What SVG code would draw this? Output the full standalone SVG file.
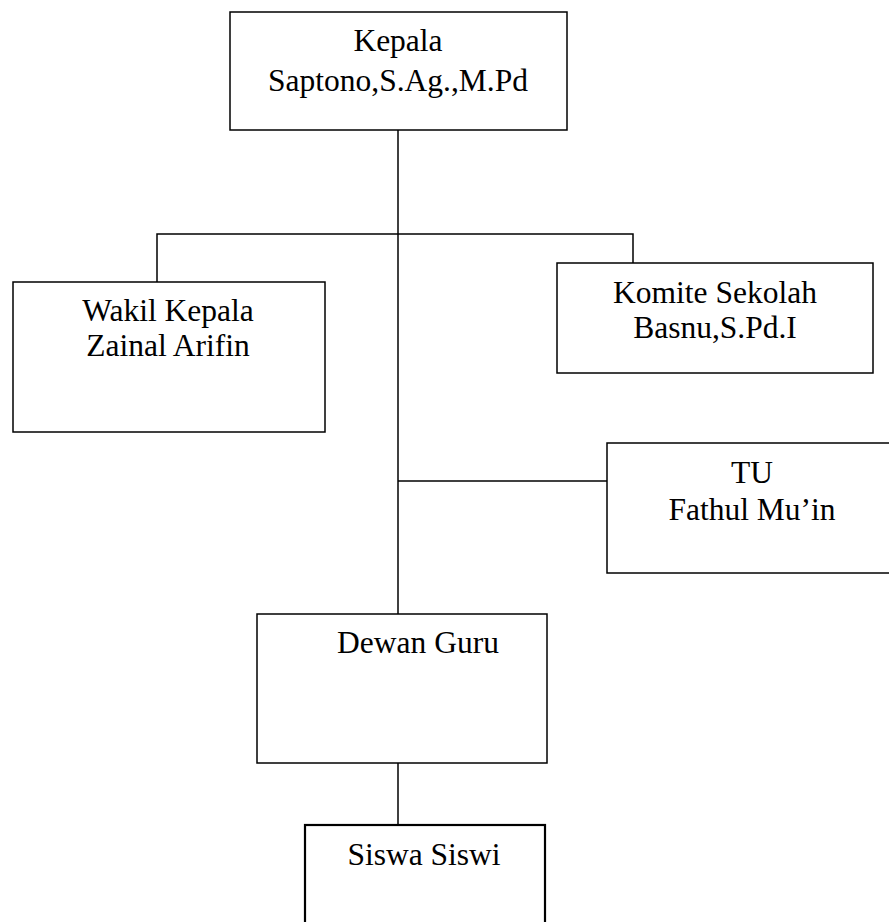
<svg xmlns="http://www.w3.org/2000/svg" width="889" height="922" viewBox="0 0 889 922">
<style>
.box{fill:#fff;stroke:#000;stroke-width:1.5}
.thick{stroke-width:2.2}
.ln{fill:none;stroke:#000;stroke-width:1.5}
text{font-family:"Liberation Serif","Times New Roman",serif;font-size:31.5px;fill:#000;text-anchor:middle}
</style>
<rect width="889" height="922" fill="#fff"/>
<g id="connectors">
<line class="ln" x1="398" y1="130" x2="398" y2="614"/>
<polyline class="ln" points="157,282 157,234 633,234 633,263"/>
<line class="ln" x1="398" y1="481" x2="607" y2="481"/>
<line class="ln" x1="398" y1="763" x2="398" y2="825"/>
</g>
<g id="kepala">
<rect class="box" x="230" y="12" width="337" height="118"/>
<text x="398" y="51">Kepala</text>
<text x="398" y="91">Saptono,S.Ag.,M.Pd</text>
</g>
<g id="wakil">
<rect class="box" x="13" y="282" width="312" height="150"/>
<text x="168" y="321">Wakil Kepala</text>
<text x="168" y="356">Zainal Arifin</text>
</g>
<g id="komite">
<rect class="box" x="557" y="263" width="316" height="110"/>
<text x="715" y="303">Komite Sekolah</text>
<text x="715" y="338">Basnu,S.Pd.I</text>
</g>
<g id="tu">
<rect class="box" x="607" y="443" width="290" height="130"/>
<text x="752" y="483">TU</text>
<text x="752" y="520">Fathul Mu’in</text>
</g>
<g id="dewan">
<rect class="box" x="257" y="614" width="290" height="149"/>
<text x="418" y="653">Dewan Guru</text>
</g>
<g id="siswa">
<rect class="box thick" x="305" y="825" width="240" height="110"/>
<text x="424" y="865">Siswa Siswi</text>
</g>
</svg>
